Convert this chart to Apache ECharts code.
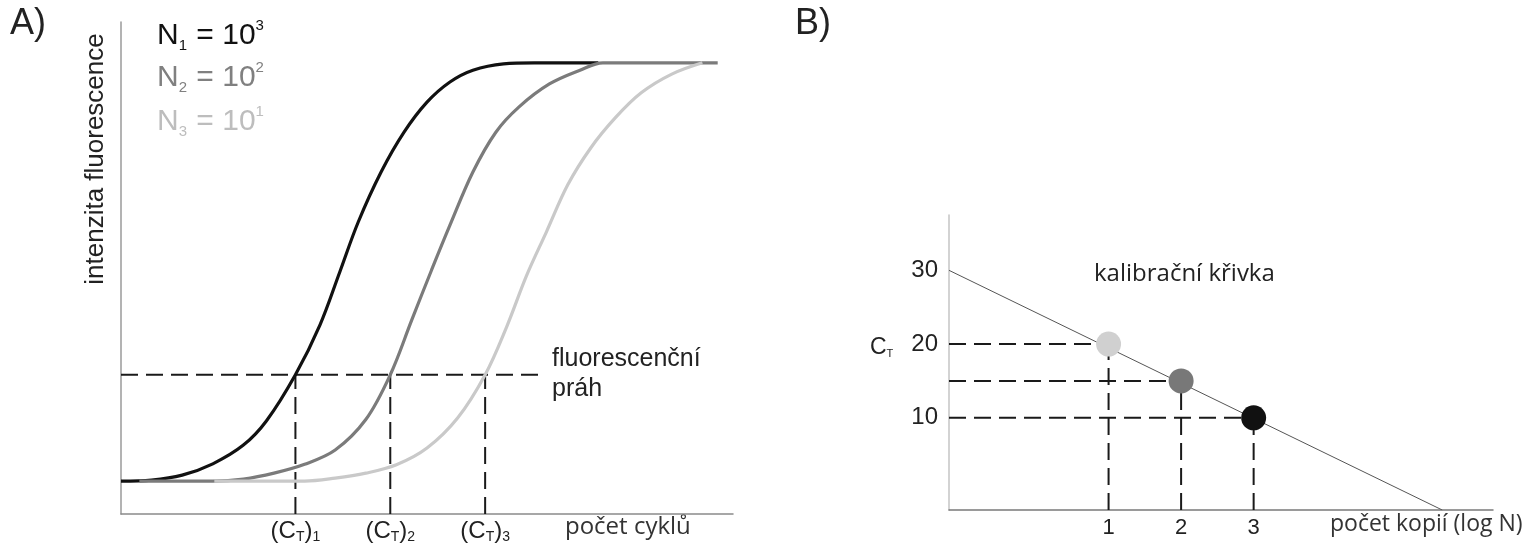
<!DOCTYPE html>
<html>
<head>
<meta charset="utf-8">
<script src="https://cdn.jsdelivr.net/npm/echarts@6/dist/echarts.min.js"></script>
<style>
  html, body { margin: 0; padding: 0; background: #fff; }
  #chart { width: 1526px; height: 547px; }
</style>
</head>
<body>
<div id="chart"></div>
<script>
// A) amplification curves: [cycle, fluorescence]
var curveN1 = [[0, 6.7], [2, 6.9], [4, 7.9], [6, 10.2], [8, 14.0], [9.5, 18.9], [11.4, 28.3], [13, 38.4], [14.3, 49.2], [15.5, 59.3], [17, 69.5], [18.5, 77.6], [20, 83.7], [21.5, 87.8], [23, 90.2], [25, 91.5], [27, 91.7], [31.2, 91.7]];
var curveN2 = [[1.2, 6.7], [6, 6.7], [8, 7.1], [10, 8.3], [12, 10.1], [14, 13.0], [16, 19.2], [17.6, 28.3], [19, 39.4], [20.3, 49.6], [21.5, 58.7], [23, 69.5], [24.5, 77.6], [26, 82.7], [28, 87.4], [30, 90.2], [31.5, 91.7], [39, 91.7]];
var curveN3 = [[6.1, 6.7], [12, 6.7], [14, 7.3], [16, 8.3], [18, 10.0], [20, 13.4], [22, 19.5], [23.8, 28.3], [25.2, 38.0], [26.5, 48.4], [27.8, 57.3], [29.2, 66.9], [30.7, 74.4], [32.3, 80.5], [34, 85.6], [36, 89.4], [38, 91.7]];
var threshold = 28.3;
var thresholdEnd = 27.4;
var ctCycles = [11.4, 17.6, 23.8];
var legendLabels = ['3', '2', '1'];

// B) calibration curve
var logN = [1, 2, 3];
var ctValues = [20, 15, 10];
var calibLine = [[-1.2, 30], [5.6, -2.5]];
var ctTicks = [10, 20, 30];
var logTicks = [1, 2, 3];

var curveColors = ['#111111', '#7b7b7b', '#c9c9c9'];
var dotColors = ['#d0d0d0', '#787878', '#111111'];
var dash = [17, 8];

var chart = echarts.init(document.getElementById('chart'));

function dashed(data, xi, yi, w) {
  return {
    type: 'line', xAxisIndex: xi, yAxisIndex: yi, data: data,
    symbol: 'none', silent: true, z: 1,
    lineStyle: { color: '#1a1a1a', width: w || 2, type: dash }
  };
}

var series = [];
// threshold + CT verticals
series.push(dashed([[0, threshold], [thresholdEnd, threshold]], 0, 0));
ctCycles.forEach(function (c) {
  series.push(dashed([[c, 0], [c, threshold]], 0, 0));
});
[curveN1, curveN2, curveN3].forEach(function (d, i) {
  series.push({
    type: 'line', xAxisIndex: 0, yAxisIndex: 0, data: d,
    symbol: 'none', smooth: 0.35, z: 3 + i,
    lineStyle: { color: curveColors[i], width: 3.2 }
  });
});

// B: dashed guides
logN.forEach(function (x, i) {
  series.push(dashed([[-1.2, ctValues[i]], [x, ctValues[i]]], 1, 1));
  series.push(dashed([[x, -2.5], [x, ctValues[i]]], 1, 1));
});
series.push({
  type: 'line', xAxisIndex: 1, yAxisIndex: 1, data: calibLine,
  symbol: 'none', z: 3,
  lineStyle: { color: '#555', width: 1 }
});
series.push({
  type: 'scatter', xAxisIndex: 1, yAxisIndex: 1, z: 5,
  symbolSize: 25,
  data: logN.map(function (x, i) {
    return { value: [x, ctValues[i]], itemStyle: { color: dotColors[i], opacity: 1 } };
  })
});

var richCT = {
  n: { fontSize: 24, fontFamily: 'Liberation Sans', color: '#222' },
  s: { fontSize: 14, fontFamily: 'Liberation Sans', color: '#222', verticalAlign: 'bottom', padding: [12, 0, 0, 0] }
};

function nLabel(i, color) {
  return {
    type: 'text', left: 157, top: [18, 60, 104][i],
    style: {
      text: '{n|N}{s|' + (i + 1) + '}{n| = 10}{p|' + legendLabels[i] + '}',
      rich: {
        n: { fontSize: 30, fontFamily: 'Liberation Sans', fill: color, color: color },
        s: { fontSize: 15, fontFamily: 'Liberation Sans', fill: color, color: color, verticalAlign: 'bottom', padding: [20, 1, 0, 0] },
        p: { fontSize: 15, fontFamily: 'Liberation Sans', fill: color, color: color, verticalAlign: 'top', padding: [0, 0, 14, 0] }
      }
    }
  };
}

chart.setOption({
  animation: false,
  backgroundColor: '#fff',
  grid: [
    { left: 121, top: 22, width: 612, height: 492 },
    { left: 949, top: 215, width: 544, height: 295 }
  ],
  xAxis: [{
    gridIndex: 0, type: 'value', min: 0, max: 40,
    axisLine: { onZero: false, lineStyle: { color: '#8a8a8a', width: 1.5 } },
    axisTick: { show: false }, splitLine: { show: false },
    axisLabel: {
      customValues: ctCycles, margin: 4, rich: richCT,
      formatter: function (v) {
        var i = ctCycles.indexOf(v) + 1;
        return '{n|(C}{s|T}{n|)}{s|' + i + '}';
      }
    }
  }, {
    gridIndex: 1, type: 'value', min: -1.2, max: 6.3,
    axisLine: { onZero: false, lineStyle: { color: '#7a7a7a', width: 1.5 } },
    axisTick: { show: false }, splitLine: { show: false },
    axisLabel: { customValues: logTicks, margin: 7, fontSize: 22, fontFamily: 'Liberation Sans', color: '#222' }
  }],
  yAxis: [{
    gridIndex: 0, type: 'value', min: 0, max: 100,
    axisLine: { show: true, onZero: false, lineStyle: { color: '#9a9a9a', width: 1.5 } },
    axisTick: { show: false }, splitLine: { show: false }, axisLabel: { show: false }
  }, {
    gridIndex: 1, type: 'value', min: -2.5, max: 37.5,
    axisLine: { show: true, onZero: false, lineStyle: { color: '#c4c4c4', width: 1.5 } },
    axisTick: { show: false }, splitLine: { show: false },
    axisLabel: { customValues: ctTicks, margin: 11, fontSize: 24, fontFamily: 'Liberation Sans', color: '#222' }
  }],
  graphic: [
    { type: 'text', left: 10, top: 6, style: { text: 'A)', fontSize: 36, fontFamily: 'Liberation Sans', fill: '#222' } },
    { type: 'text', left: 795, top: 6, style: { text: 'B)', fontSize: 36, fontFamily: 'Liberation Sans', fill: '#222' } },
    { type: 'text', x: 96, y: 159, rotation: Math.PI / 2,
      style: { text: 'intenzita fluorescence', fontSize: 26, fontFamily: 'Liberation Sans', fill: '#222', textAlign: 'center', textVerticalAlign: 'middle' } },
    nLabel(0, '#111'), nLabel(1, '#808080'), nLabel(2, '#bdbdbd'),
    { type: 'text', left: 552, top: 347, style: { text: 'fluorescenční', fontSize: 25, fontFamily: 'Liberation Sans', fill: '#222' } },
    { type: 'text', left: 552, top: 377, style: { text: 'práh', fontSize: 25, fontFamily: 'Liberation Sans', fill: '#222' } },
    { type: 'text', left: 565, top: 515, style: { text: 'počet cyklů', fontSize: 24, fontFamily: 'Open Sans', fill: '#333' } },
    { type: 'text', left: 1094, top: 262, style: { text: 'kalibrační křivka', fontSize: 24, fontFamily: 'Open Sans', fill: '#222' } },
    { type: 'text', left: 1330, top: 513, style: { text: 'počet kopií (log N)', fontSize: 23, fontFamily: 'Open Sans', fill: '#333' } },
    { type: 'text', left: 870, top: 336, style: {
      text: '{n|C}{s|T}',
      rich: {
        n: { fontSize: 23, fontFamily: 'Liberation Sans', fill: '#222', color: '#222' },
        s: { fontSize: 11, fontFamily: 'Liberation Sans', fill: '#222', color: '#222', verticalAlign: 'bottom', padding: [12, 0, 0, 0] }
      } } }
  ],
  series: series
});
</script>
</body>
</html>
